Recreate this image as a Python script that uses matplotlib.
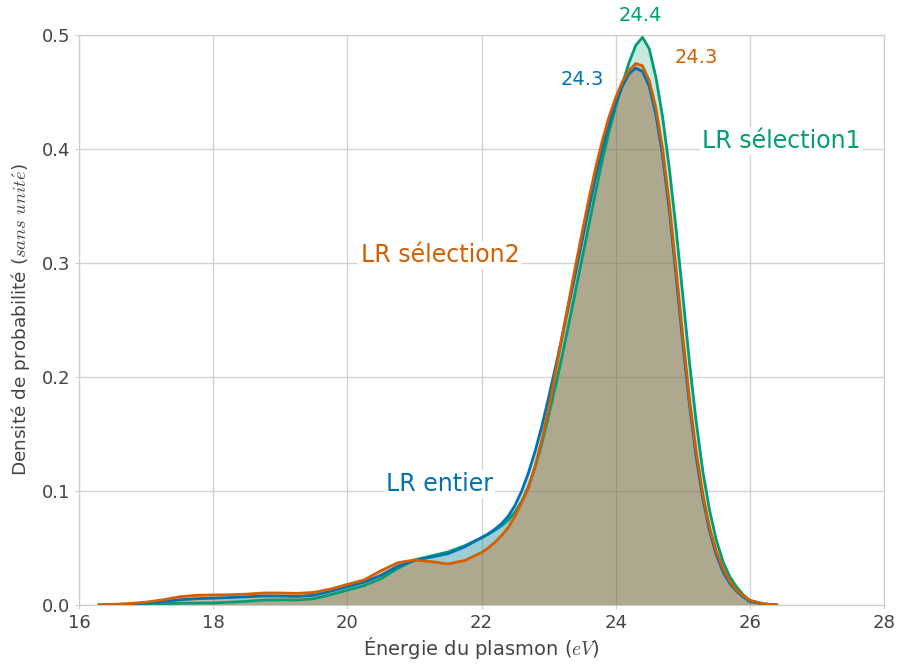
import matplotlib
matplotlib.use("Agg")
import matplotlib.pyplot as plt
import numpy as np

# energy grid (eV) and densities
energie = [16.3, 16.5, 16.75, 17.0, 17.25, 17.5, 17.75, 18.0, 18.25, 18.5, 18.75, 19.0,
           19.25, 19.5, 19.75, 20.0, 20.25, 20.5, 20.75, 21.0, 21.25, 21.5, 21.75, 22.0,
           22.1, 22.2, 22.3, 22.4, 22.5, 22.6, 22.7, 22.8, 22.9, 23.0, 23.1, 23.2, 23.3,
           23.4, 23.5, 23.6, 23.7, 23.8, 23.9, 24.0, 24.1, 24.2, 24.3, 24.4, 24.5, 24.6,
           24.7, 24.8, 24.9, 25.0, 25.1, 25.2, 25.3, 25.4, 25.5, 25.6, 25.7, 25.8, 25.9,
           26.0, 26.2, 26.4]

lr_entier = [0.0, 0.0003, 0.0008, 0.0015, 0.003, 0.0045, 0.0055, 0.006, 0.0065, 0.0072,
             0.0079, 0.0078, 0.0075, 0.0085, 0.012, 0.016, 0.020, 0.026, 0.034, 0.039,
             0.042, 0.045, 0.051, 0.059, 0.0625, 0.0665, 0.0715, 0.078, 0.0875, 0.100,
             0.116, 0.135, 0.157, 0.182, 0.208, 0.235, 0.263, 0.291, 0.320, 0.348,
             0.375, 0.400, 0.422, 0.440, 0.455, 0.466, 0.471, 0.468, 0.455, 0.430,
             0.394, 0.346, 0.289, 0.230, 0.176, 0.130, 0.093, 0.065, 0.044, 0.029,
             0.019, 0.012, 0.007, 0.003, 0.0008, 0.0]

lr_selection1 = [0.0, 0.0001, 0.0003, 0.0006, 0.001, 0.0015, 0.0017, 0.0018, 0.0024, 0.0032,
                 0.0043, 0.0045, 0.0044, 0.0055, 0.009, 0.013, 0.017, 0.023, 0.032, 0.0395,
                 0.043, 0.0465, 0.052, 0.059, 0.062, 0.0655, 0.0695, 0.0745, 0.0815, 0.091,
                 0.104, 0.121, 0.142, 0.166, 0.191, 0.218, 0.246, 0.275, 0.304, 0.333,
                 0.362, 0.390, 0.415, 0.437, 0.457, 0.476, 0.491, 0.498, 0.488, 0.463,
                 0.428, 0.383, 0.330, 0.272, 0.213, 0.161, 0.117, 0.083, 0.057, 0.038,
                 0.025, 0.016, 0.009, 0.004, 0.001, 0.0]

lr_selection2 = [0.0, 0.0005, 0.0012, 0.0025, 0.0045, 0.0072, 0.0085, 0.0088, 0.009, 0.0095,
                 0.0105, 0.0105, 0.0102, 0.011, 0.014, 0.018, 0.022, 0.030, 0.037, 0.0395,
                 0.038, 0.036, 0.039, 0.046, 0.050, 0.055, 0.061, 0.068, 0.078, 0.090,
                 0.103, 0.122, 0.145, 0.172, 0.203, 0.235, 0.266, 0.297, 0.327, 0.356,
                 0.383, 0.407, 0.428, 0.445, 0.459, 0.469, 0.475, 0.473, 0.460, 0.436,
                 0.400, 0.352, 0.295, 0.236, 0.181, 0.135, 0.097, 0.068, 0.047, 0.032,
                 0.021, 0.013, 0.008, 0.004, 0.001, 0.0]

# name, values, colour, fill alpha, label pos, peak label, peak pos (drawing order)
series = [
    ("LR sélection1", lr_selection1, "#009E73", 0.22, (26.47, 0.407), "24.4", (24.36, 0.517)),
    ("LR entier", lr_entier, "#0072B2", 0.22, (21.37, 0.106), "24.3", (23.5, 0.461)),
    ("LR sélection2", lr_selection2, "#D55E00", 0.33, (21.38, 0.307), "24.3", (25.2, 0.480)),
]

plt.rcParams["mathtext.fontset"] = "cm"
plt.rcParams["font.family"] = ["DejaVu Sans"]

fig = plt.figure(figsize=(8.98, 6.67), dpi=100)
ax = fig.add_axes([0.088, 0.093, 0.8964, 0.8545])

for name, dens, col, alph, lpos, peak, ppos in series:
    ax.fill_between(energie, dens, color=col, alpha=alph, linewidth=0, zorder=2)
    ax.plot(energie, dens, color=col, linewidth=2.0, solid_joinstyle="round", zorder=3)
    ax.text(lpos[0], lpos[1], name, color=col, fontsize=17, ha="center", va="center",
            bbox=dict(facecolor="white", edgecolor="none", pad=1.5), zorder=4)
    ax.text(ppos[0], ppos[1], peak, color=col, fontsize=14, ha="center", va="center",
            family=["Liberation Sans Narrow", "DejaVu Sans"], zorder=4)

ax.set_xlim(16, 28)
ax.set_ylim(0, 0.5)
ax.set_xticks([16, 18, 20, 22, 24, 26, 28])
ax.set_yticks([0.0, 0.1, 0.2, 0.3, 0.4, 0.5])
ax.grid(True, color="#d3d3d3", linewidth=1.0, zorder=0)
ax.set_axisbelow(True)
for s in ax.spines.values():
    s.set_color("#cccccc")
ax.tick_params(colors="#cccccc", labelcolor="#444444", labelsize=13, length=3)

ax.set_xlabel(r"Énergie du plasmon ($eV$)", fontsize=14, color="#444444", labelpad=2)
ax.set_ylabel(r"Densité de probabilité ($sans\ unit\acute{e}$)", fontsize=13.3,
              color="#444444", labelpad=7)

fig.savefig("out.png", dpi=100)
